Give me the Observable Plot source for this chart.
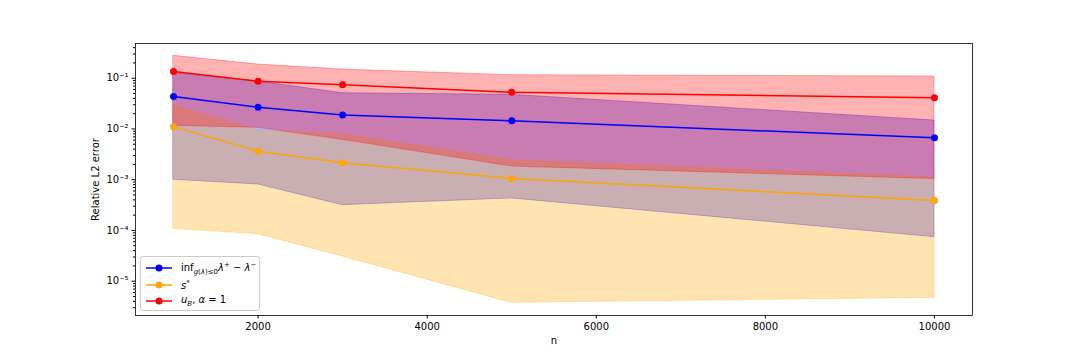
<!DOCTYPE html>
<html>
<head>
<meta charset="utf-8">
<script src="https://cdn.jsdelivr.net/npm/d3@7"></script>
<script src="https://cdn.jsdelivr.net/npm/@observablehq/plot@0.6"></script>
<style>
  body { margin: 0; background: #fff; font-family: "DejaVu Sans", sans-serif; }
  #wrap { position: relative; width: 1080px; height: 360px; }
  #legend { position: absolute; left: 140px; top: 256px; width: 120px; height: 55px;
            border: 1px solid #cccccc; border-radius: 3px; background: rgba(255,255,255,0.8);
            font-family: "DejaVu Sans", sans-serif; font-size: 10px; color: #000; box-sizing: border-box; }
  .row { position: absolute; left: 4px; height: 14px; display: flex; align-items: center; white-space: nowrap; }
  .row svg { margin-right: 8px; }
  .row sub { font-size: 7px; vertical-align: -3px; }
  .row sup { font-size: 7px; vertical-align: 4px; }
</style>
</head>
<body>
<div id="wrap"></div>
<script>
// ---- data ----
const ns = [1000, 2000, 3000, 5000, 10000];

const infMean = [0.0436, 0.0268, 0.0188, 0.0145, 0.0067];
const infLow  = [0.000996, 0.000804, 0.000315, 0.000427, 0.0000736];
const infHigh = [0.1255, 0.0861, 0.0506, 0.0471, 0.01468];

const sMean = [0.0110, 0.00365, 0.00215, 0.00106, 0.000389];
const sLow  = [0.0001076, 0.0000843, 0.0000307, 0.00000375, 0.00000471];
const sHigh = [0.0290, 0.00931, 0.00778, 0.00239, 0.00110];

const uMean = [0.1355, 0.0873, 0.0741, 0.0530, 0.0411];
const uLow  = [0.01153, 0.01054, 0.00611, 0.00182, 0.00103];
const uHigh = [0.2763, 0.186, 0.148, 0.1146, 0.108];

const xTicks = [2000, 4000, 6000, 8000, 10000];
const yTicks = [1e-5, 1e-4, 1e-3, 1e-2, 1e-1];
const supMap = {"-": "\u207B", "0": "\u2070", "1": "\u00B9", "2": "\u00B2", "3": "\u00B3", "4": "\u2074", "5": "\u2075", "6": "\u2076", "7": "\u2077", "8": "\u2078", "9": "\u2079"};

const series = [
  {name: "inf", color: "blue", mean: infMean, low: infLow, high: infHigh},
  {name: "s", color: "orange", mean: sMean, low: sLow, high: sHigh},
  {name: "u", color: "red", mean: uMean, low: uLow, high: uHigh}
];

const rows = series.flatMap(s => ns.map((n, i) => ({series: s.name, color: s.color, n, mean: s.mean[i], lo: s.low[i], hi: s.high[i]})));

const yDomain = [Math.pow(10, -5.676), Math.pow(10, -0.316)];
const minor = [];
for (let k = -6; k <= 0; k++) for (let m = 2; m <= 9; m++) {
  const v = m * Math.pow(10, k);
  if (v > yDomain[0] && v < yDomain[1]) minor.push(v);
}
const fmtPow = d => "10" + String(Math.round(Math.log10(d))).split("").map(c => supMap[c]).join("");

const bandMarks = series.map(s => Plot.areaY(rows.filter(r => r.series === s.name), {
  x: "n", y1: "lo", y2: "hi", fill: s.color, fillOpacity: 0.3, stroke: s.color, strokeOpacity: 0.3, strokeWidth: 1
}));
const lineMarks = series.flatMap(s => [
  Plot.line(rows.filter(r => r.series === s.name), {x: "n", y: "mean", stroke: s.color, strokeWidth: 1.5}),
  Plot.dot(rows.filter(r => r.series === s.name), {x: "n", y: "mean", fill: s.color, r: 3.5, stroke: null})
]);

const chart = Plot.plot({
  width: 1080, height: 360,
  marginLeft: 135, marginRight: 108, marginTop: 43, marginBottom: 45,
  style: {fontFamily: "DejaVu Sans, sans-serif", fontSize: "10px", color: "#000", background: "#fff"},
  x: {domain: [550, 10450]},
  y: {type: "log", domain: yDomain},
  marks: [
    ...bandMarks,
    ...lineMarks,
    Plot.frame({stroke: "#000", strokeWidth: 0.8}),
    Plot.axisX({ticks: xTicks, tickFormat: d => String(d), tickSize: 3.5, tickPadding: 3.5, label: null, fontSize: 10}),
    Plot.axisY({ticks: yTicks, tickFormat: fmtPow, tickSize: 3.5, tickPadding: 3.5, label: null, fontSize: 10}),
    Plot.axisY({ticks: minor, tickFormat: () => "", tickSize: 2, label: null}),
    Plot.text(["n"], {frameAnchor: "bottom", dy: 25, text: d => d, fontSize: 10, lineAnchor: "middle"}),
    Plot.text(["Relative L2 error"], {frameAnchor: "left", dx: -40, rotate: -90, text: d => d, fontSize: 10, lineAnchor: "middle", textAnchor: "middle"})
  ]
});

const wrap = document.getElementById("wrap");
wrap.appendChild(chart);

// legend
const legendItems = [
  {color: "blue", html: 'inf<sub><i>g</i>(<i>λ</i>)≤0</sub><i>λ</i><sup>+</sup> − <i>λ</i><sup>−</sup>'},
  {color: "orange", html: '<i>s</i><sup>*</sup>'},
  {color: "red", html: '<i>u</i><sub><i>B</i></sub>, <i>α</i> = 1'}
];
const legend = document.createElement("div");
legend.id = "legend";
const tops = [4, 21, 37];
legendItems.forEach((it, i) => {
  const row = document.createElement("div");
  row.className = "row";
  row.style.top = tops[i] + "px";
  row.innerHTML = `<svg width="28" height="10"><line x1="1" y1="5" x2="27" y2="5" stroke="${it.color}" stroke-width="1.5"/><circle cx="14" cy="5" r="3.5" fill="${it.color}"/></svg><span>${it.html}</span>`;
  legend.appendChild(row);
});
wrap.appendChild(legend);
</script>
</body>
</html>
